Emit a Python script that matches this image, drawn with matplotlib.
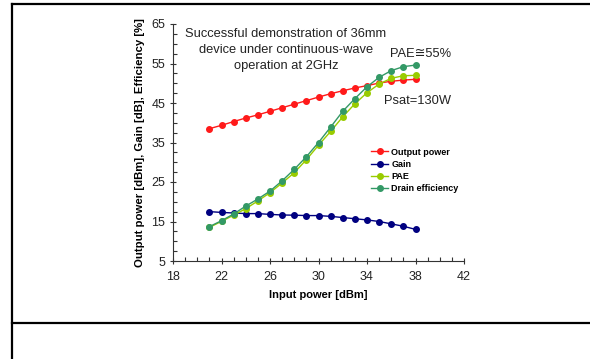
import matplotlib
matplotlib.use("Agg")
import matplotlib.pyplot as plt
from matplotlib.lines import Line2D
from matplotlib.ticker import MultipleLocator

plt.rcParams['font.family'] = ['Liberation Sans', 'DejaVu Sans']

input_power = [21, 22, 23, 24, 25, 26, 27, 28, 29, 30, 31, 32, 33, 34, 35, 36, 37, 38]
output_power = [38.5, 39.35, 40.3, 41.2, 42.0, 42.9, 43.8, 44.7, 45.6, 46.5, 47.35, 48.1,
                48.8, 49.4, 50.05, 50.5, 50.8, 51.0]
gain = [17.5, 17.3, 17.15, 17.0, 17.0, 16.8, 16.65, 16.6, 16.5, 16.5, 16.3, 16.0,
        15.7, 15.4, 15.0, 14.4, 13.8, 13.0]
pae = [13.5, 15.05, 16.6, 18.25, 20.2, 22.3, 24.75, 27.35, 30.65, 34.3, 37.8, 41.5,
       44.8, 47.6, 49.8, 51.25, 51.9, 52.0]
drain_eff = [13.7, 15.2, 16.9, 18.9, 20.7, 22.7, 25.3, 28.2, 31.4, 35.0, 38.9, 42.9,
             46.1, 49.1, 51.5, 53.2, 54.2, 54.6]

series = [
    ("Output power", output_power, "#ff1a1a"),
    ("Gain", gain, "#000080"),
    ("PAE", pae, "#99cc00"),
    ("Drain efficiency", drain_eff, "#339966"),
]

fig = plt.figure(figsize=(5.9, 3.59), dpi=100)
ax = fig.add_axes([173/590, 1 - 261/359, (464-173)/590, (261-24)/359])

for name, vals, col in series:
    ax.plot(input_power, vals, color=col, lw=1.0, marker='o', ms=4.0,
            mec=col, mfc=col, label=name)

ax.set_xlim(18, 42)
ax.set_ylim(5, 65)
ax.xaxis.set_major_locator(MultipleLocator(4, offset=2))
ax.xaxis.set_minor_locator(MultipleLocator(1))
ax.yaxis.set_major_locator(MultipleLocator(10, offset=5))
ax.yaxis.set_minor_locator(MultipleLocator(2.5))
for s in ['top', 'right']:
    ax.spines[s].set_visible(False)
for s in ['left', 'bottom']:
    ax.spines[s].set_linewidth(0.8)
    ax.spines[s].set_color('#333333')
ax.tick_params(which='major', direction='inout', length=5, width=0.8, labelsize=9,
               colors='#333333', labelcolor='#222222')
ax.tick_params(which='minor', direction='in', length=3, width=0.8, colors='#333333')
ax.tick_params(axis='x', pad=5)
ax.tick_params(axis='y', pad=3)

ax.set_xlabel("Input power [dBm]", fontsize=8, fontweight='bold', labelpad=5)
ax.set_ylabel("Output power [dBm], Gain [dB], Efficiency [%]", fontsize=8.2,
              fontweight='bold', labelpad=5)

ax.text(0.388, 0.985, "Successful demonstration of 36mm\ndevice under continuous-wave\noperation at 2GHz",
        transform=ax.transAxes, ha='center', va='top', fontsize=9.3, linespacing=1.45,
        color='#222222')
ax.text(38.4, 57.4, "PAE\u224555%", ha='center', va='center', fontsize=9.3, color='#222222')
ax.text(38.2, 45.6, "Psat=130W", ha='center', va='center', fontsize=9.3, color='#222222')

leg = ax.legend(loc='upper left', bbox_to_anchor=(0.66, 0.505), frameon=False,
                prop={'size': 6.5, 'weight': 'bold'}, handlelength=1.8,
                handletextpad=0.4, labelspacing=0.35, borderpad=0.2)

# outer frame lines
fig.add_artist(Line2D([12/590, 1.0], [1 - 4/359, 1 - 4/359], color='black', lw=1.6))
fig.add_artist(Line2D([12/590, 12/590], [0, 1 - 4/359], color='black', lw=1.6))
fig.add_artist(Line2D([12/590, 1.0], [1 - 323/359, 1 - 323/359], color='black', lw=1.6))

fig.savefig("out.png", dpi=100)
